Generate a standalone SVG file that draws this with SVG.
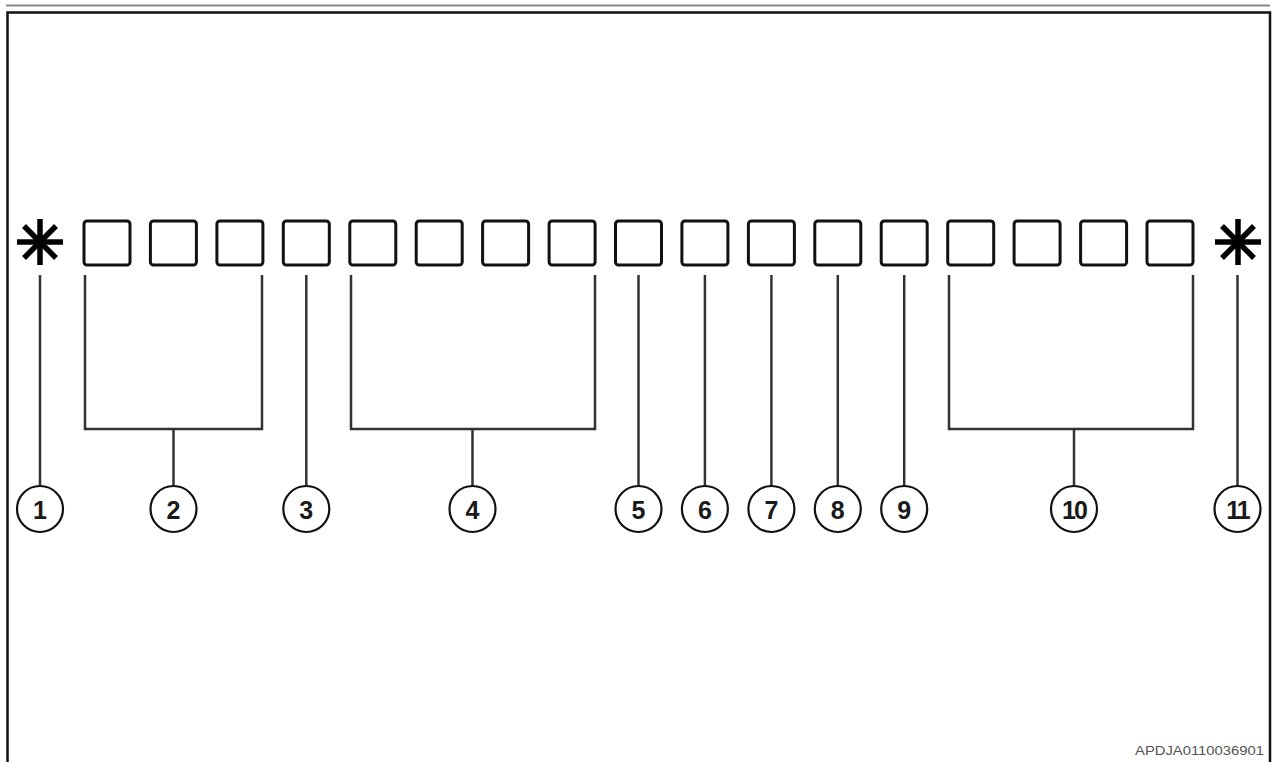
<svg xmlns="http://www.w3.org/2000/svg" width="1275" height="762" viewBox="0 0 1275 762">
<style>
.box{fill:#fff;stroke:#111;stroke-width:3}
.ast{stroke:#000;stroke-width:5.5;stroke-linecap:butt}
.ld{fill:none;stroke:#333;stroke-width:2.5}
.cl{fill:#fff;stroke:#111;stroke-width:2.2}
.num{font-family:"Liberation Sans",Arial,sans-serif;font-size:25px;font-weight:bold;fill:#1a1a1a;text-anchor:middle}
.code{font-family:"Liberation Sans",Arial,sans-serif;font-size:12px;fill:#555}
</style>
<defs>
<g id="asterisk">
<line class="ast" x1="-23" y1="0" x2="23" y2="0"/>
<line class="ast" x1="0" y1="-23" x2="0" y2="23"/>
<line class="ast" x1="-16" y1="-16" x2="16" y2="16"/>
<line class="ast" x1="-16" y1="16" x2="16" y2="-16"/>
</g>
</defs>
<rect width="1275" height="762" fill="#fff"/>
<line x1="6" y1="5.5" x2="1270" y2="5.5" stroke="#888" stroke-width="2"/>
<path d="M7.5 762 V12.5 H1270 V762" fill="none" stroke="#111" stroke-width="2.5"/>

<g id="pins">
<use href="#asterisk" x="40" y="242"/>
<rect class="box" x="84" y="221" width="46" height="44" rx="3"/>
<rect class="box" x="150.4" y="221" width="46" height="44" rx="3"/>
<rect class="box" x="216.9" y="221" width="46" height="44" rx="3"/>
<rect class="box" x="283.3" y="221" width="46" height="44" rx="3"/>
<rect class="box" x="349.8" y="221" width="46" height="44" rx="3"/>
<rect class="box" x="416.2" y="221" width="46" height="44" rx="3"/>
<rect class="box" x="482.6" y="221" width="46" height="44" rx="3"/>
<rect class="box" x="549.1" y="221" width="46" height="44" rx="3"/>
<rect class="box" x="615.5" y="221" width="46" height="44" rx="3"/>
<rect class="box" x="681.9" y="221" width="46" height="44" rx="3"/>
<rect class="box" x="748.4" y="221" width="46" height="44" rx="3"/>
<rect class="box" x="814.8" y="221" width="46" height="44" rx="3"/>
<rect class="box" x="881.2" y="221" width="46" height="44" rx="3"/>
<rect class="box" x="947.7" y="221" width="46" height="44" rx="3"/>
<rect class="box" x="1014.1" y="221" width="46" height="44" rx="3"/>
<rect class="box" x="1080.6" y="221" width="46" height="44" rx="3"/>
<rect class="box" x="1147" y="221" width="46" height="44" rx="3"/>
<use href="#asterisk" x="1238" y="242"/>
</g>

<g id="connectors">
<line class="ld" x1="40" y1="275" x2="40" y2="486"/>
<path class="ld" d="M85 275 V429 H262 V275 M173.5 429 V486"/>
<line class="ld" x1="306.3" y1="275" x2="306.3" y2="486"/>
<path class="ld" d="M351 275 V429 H595 V275 M472.5 429 V486"/>
<line class="ld" x1="638.5" y1="275" x2="638.5" y2="486"/>
<line class="ld" x1="704.9" y1="275" x2="704.9" y2="486"/>
<line class="ld" x1="771.4" y1="275" x2="771.4" y2="486"/>
<line class="ld" x1="837.8" y1="275" x2="837.8" y2="486"/>
<line class="ld" x1="904.2" y1="275" x2="904.2" y2="486"/>
<path class="ld" d="M949 275 V429 H1193 V275 M1074 429 V486"/>
<line class="ld" x1="1237.5" y1="275" x2="1237.5" y2="486"/>
</g>

<g id="label-1"><circle class="cl" cx="40" cy="509" r="23"/><text class="num" x="40" y="519">1</text></g>
<g id="label-2"><circle class="cl" cx="173.5" cy="509" r="23"/><text class="num" x="173.5" y="519">2</text></g>
<g id="label-3"><circle class="cl" cx="306.3" cy="509" r="23"/><text class="num" x="306.3" y="519">3</text></g>
<g id="label-4"><circle class="cl" cx="472.5" cy="509" r="23"/><text class="num" x="472.5" y="519">4</text></g>
<g id="label-5"><circle class="cl" cx="638.5" cy="509" r="23"/><text class="num" x="638.5" y="519">5</text></g>
<g id="label-6"><circle class="cl" cx="704.9" cy="509" r="23"/><text class="num" x="704.9" y="519">6</text></g>
<g id="label-7"><circle class="cl" cx="771.4" cy="509" r="23"/><text class="num" x="771.4" y="519">7</text></g>
<g id="label-8"><circle class="cl" cx="837.8" cy="509" r="23"/><text class="num" x="837.8" y="519">8</text></g>
<g id="label-9"><circle class="cl" cx="904.2" cy="509" r="23"/><text class="num" x="904.2" y="519">9</text></g>
<g id="label-10"><circle class="cl" cx="1074" cy="509" r="23"/><text class="num" x="1074" y="519" letter-spacing="-2">10</text></g>
<g id="label-11"><circle class="cl" cx="1237.5" cy="509" r="23"/><text class="num" x="1237.5" y="519" letter-spacing="-2">11</text></g>

<text class="code" x="1135" y="755" textLength="129" lengthAdjust="spacingAndGlyphs">APDJA0110036901</text>
</svg>
